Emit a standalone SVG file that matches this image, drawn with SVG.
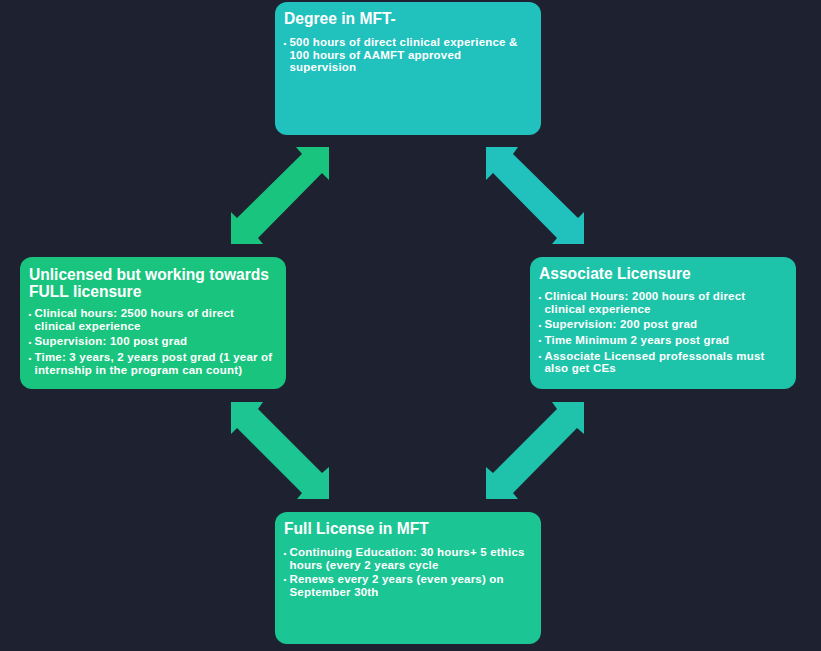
<svg xmlns="http://www.w3.org/2000/svg" width="821" height="651" viewBox="0 0 821 651">
<style>
.box{stroke:none}
.title{font-family:"Liberation Sans",Arial,sans-serif;font-weight:bold;font-size:15.6px;fill:#ffffff}
.body{font-family:"Liberation Sans",Arial,sans-serif;font-weight:bold;font-size:11.5px;letter-spacing:0.2px;fill:#ffffff}
.bul{font-family:"Liberation Sans",Arial,sans-serif;font-weight:bold;font-size:8px;fill:#ffffff}
</style>
<rect x="0" y="0" width="821" height="651" fill="#1e2230"/>
<g id="connectors">
<polygon fill="#19c57e" points="329,147 296,147 302,154 237,218 231,212 231,244 263,244 258,238 322,173 329,180"/>
<polygon fill="#21c1be" points="486,147 518,147 513,154 578,218 584,212 584,244 552,244 557,238 493,173 486,180"/>
<polygon fill="#1cc592" points="231,402 263,402 258,409 322,473 329,467 329,499 297,499 302,493 237,428 231,434"/>
<polygon fill="#1fc3ab" points="584,402 552,402 557,409 493,473 486,467 486,499 518,499 513,493 577,428 584,434"/>
</g>
<g id="degree">
<rect class="box" x="275" y="2" width="266" height="133" rx="12" fill="#21c1be"/>
<text class="title" x="284" y="24">Degree in MFT-</text>
<text class="bul" x="283.5" y="45.5">•</text>
<text class="body" x="289.5" y="46">500 hours of direct clinical experience &amp;</text>
<text class="body" x="289.5" y="58.5">100 hours of AAMFT approved</text>
<text class="body" x="289.5" y="71">supervision</text>
</g>
<g id="unlicensed">
<rect class="box" x="20" y="257" width="266" height="132" rx="12" fill="#19c57e"/>
<text class="title" x="29" y="280">Unlicensed but working towards</text>
<text class="title" x="29" y="296.5">FULL licensure</text>
<text class="bul" x="28.5" y="316.5">•</text>
<text class="body" x="34.5" y="317">Clinical hours: 2500 hours of direct</text>
<text class="body" x="34.5" y="329.5">clinical experience</text>
<text class="bul" x="28.5" y="344.5">•</text>
<text class="body" x="34.5" y="345">Supervision: 100 post grad</text>
<text class="bul" x="28.5" y="360.5">•</text>
<text class="body" x="34.5" y="361">Time: 3 years, 2 years post grad (1 year of</text>
<text class="body" x="34.5" y="374">internship in the program can count)</text>
</g>
<g id="associate">
<rect class="box" x="530" y="257" width="266" height="132" rx="12" fill="#1ec4aa"/>
<text class="title" x="539" y="278.5">Associate Licensure</text>
<text class="bul" x="538.5" y="299.5">•</text>
<text class="body" x="544.5" y="300">Clinical Hours: 2000 hours of direct</text>
<text class="body" x="544.5" y="313">clinical experience</text>
<text class="bul" x="538.5" y="327.5">•</text>
<text class="body" x="544.5" y="328">Supervision: 200 post grad</text>
<text class="bul" x="538.5" y="343">•</text>
<text class="body" x="544.5" y="343.5">Time Minimum 2 years post grad</text>
<text class="bul" x="538.5" y="359">•</text>
<text class="body" x="544.5" y="359.5">Associate Licensed professonals must</text>
<text class="body" x="544.5" y="372">also get CEs</text>
</g>
<g id="full">
<rect class="box" x="275" y="512" width="266" height="132" rx="12" fill="#1cc594"/>
<text class="title" x="284" y="533.5">Full License in MFT</text>
<text class="bul" x="283.5" y="555.5">•</text>
<text class="body" x="289.5" y="556">Continuing Education: 30 hours+ 5 ethics</text>
<text class="body" x="289.5" y="568.5">hours (every 2 years cycle</text>
<text class="bul" x="283.5" y="582">•</text>
<text class="body" x="289.5" y="582.5">Renews every 2 years (even years) on</text>
<text class="body" x="289.5" y="595.5">September 30th</text>
</g>
</svg>
